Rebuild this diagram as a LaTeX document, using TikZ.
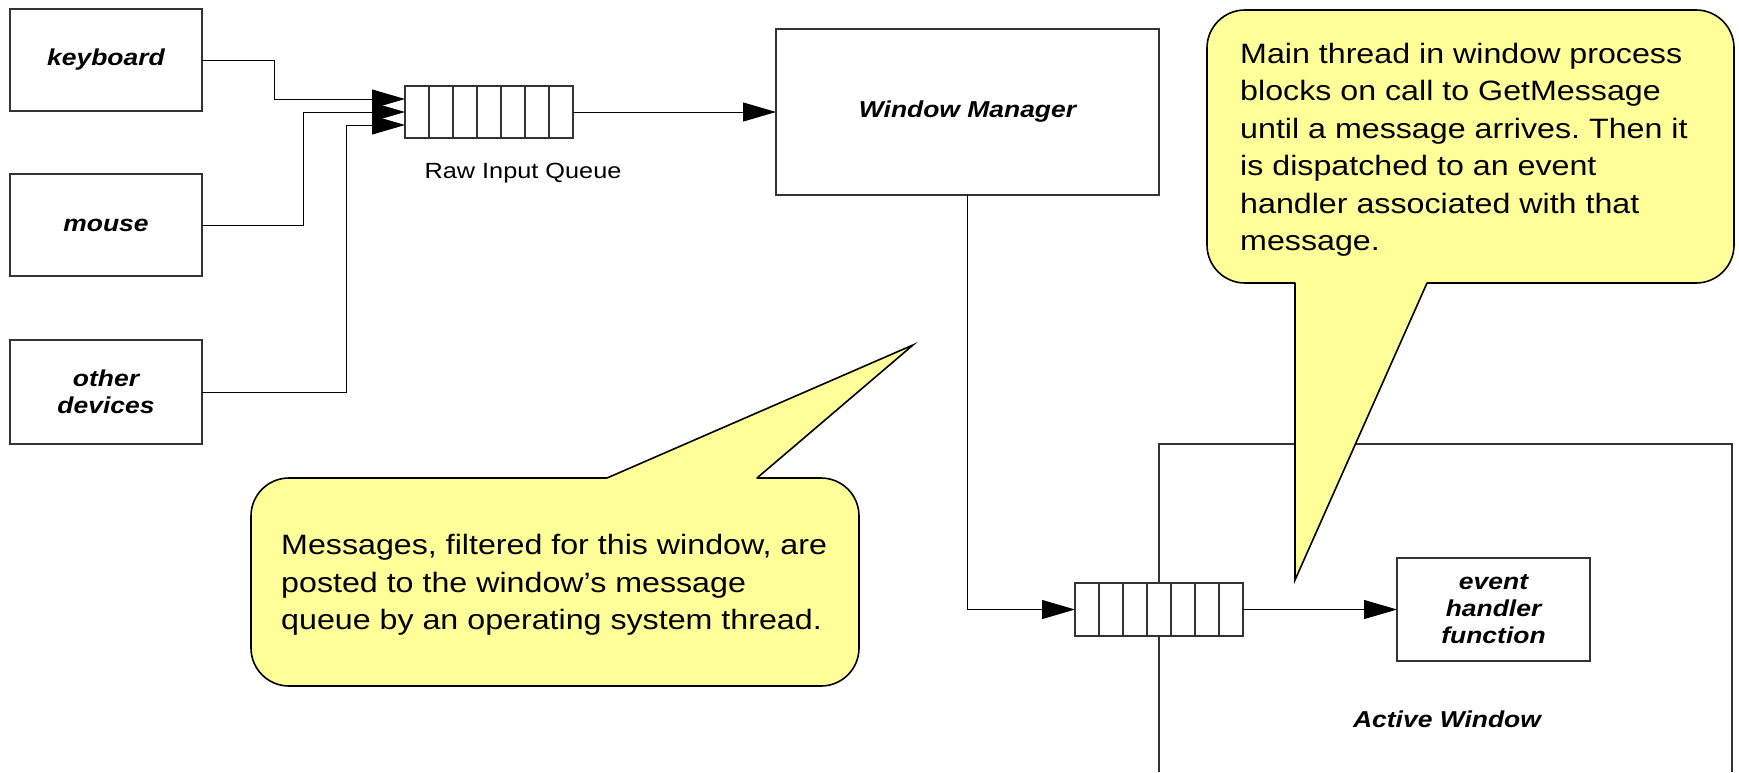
\documentclass[tikz,border=0pt]{standalone}
\usepackage{fontspec}
\setmainfont{Liberation Sans}[FakeStretch=1.15]
\usetikzlibrary{arrows.meta,calc}
\definecolor{cyel}{HTML}{FFFF99}
\frenchspacing
\begin{document}
\begin{tikzpicture}[x=1pt,y=-1pt,
 box/.style={draw=black!80, line width=1.3pt, fill=white, inner sep=0pt, outer sep=0pt, align=center, font=\fontsize{23}{27}\selectfont\bfseries\itshape},
 queue/.style={draw=black!80, line width=1.1pt, fill=white, inner sep=0pt, outer sep=0pt, minimum width=168pt},
 cell/.style={draw=black!80, line width=1.1pt},
 conn/.style={draw=black, line width=1pt},
 arr/.style={conn, -{Triangle[length=33pt,width=19pt]}},
 callout/.style={draw=black, line width=1.6pt, fill=cyel, rounded corners=38pt},
 tailfill/.style={fill=cyel},
 tailline/.style={draw=black, line width=1.6pt, line join=miter, line cap=round},
 ctext/.style={inner sep=0pt, align=left, anchor=west, font=\fontsize{28}{37.5}\selectfont},
 lbl/.style={inner sep=0pt, font=\fontsize{22}{26}\selectfont},
]
\useasboundingbox (0,0) rectangle (1739,772);

% Active window region
\draw[draw=black!80, line width=1.3pt] (1159,772) -- (1159,444) -- (1732,444) -- (1732,772);
\node[inner sep=0pt, font=\fontsize{23}{27}\selectfont\bfseries\itshape] (awl) at (1447,719) {Active Window};

% devices
\node[box, minimum width=192pt, minimum height=102pt] (kbd) at (106,60) {keyboard};
\node[box, minimum width=192pt, minimum height=102pt] (mouse) at (106,225) {mouse};
\node[box, minimum width=192pt, minimum height=104pt] (oth) at (106,392) {other\\devices};

% raw input queue
\node[queue, minimum height=52pt] (rawq) at (489,112) {};
\foreach \i in {1,...,6}
  \draw[cell] ($(rawq.north west)+(\i*24,0)$) -- ($(rawq.south west)+(\i*24,0)$);
\node[lbl] (rawl) at (523,173) {Raw Input Queue};

% window manager
\node[box, minimum width=383pt, minimum height=166pt] (wm) at (967.5,112) {Window Manager};

% window message queue
\node[queue, minimum height=53pt] (q2) at (1159,609.5) {};
\foreach \i in {1,...,6}
  \draw[cell] ($(q2.north west)+(\i*24,0)$) -- ($(q2.south west)+(\i*24,0)$);

% event handler
\node[box, minimum width=193pt, minimum height=103pt] (ev) at (1493.5,609.5) {event\\handler\\function};

% connectors
\draw[arr] (kbd.east) -| (274,99) -- ($(rawq.west)+(0,-13)$);
\draw[arr] (mouse.east) -| (303,112) -- (rawq.west);
\draw[arr] (oth.east) -| (346,125) -- ($(rawq.west)+(0,13)$);
\draw[arr] (rawq.east) -- (wm.west);
\draw[arr] (wm.south) |- (q2.west);
\draw[arr] (q2.east) -- (ev.west);

% callout 1
\path[callout] (251,478) rectangle (859,686);
\coordinate (c1l) at (607,478);
\coordinate (c1t) at (913,345);
\coordinate (c1r) at (757,478);
\fill[tailfill] (c1l) -- (c1t) -- (c1r) -- ($(c1r)+(0,4)$) -- ($(c1l)+(0,4)$) -- cycle;
\draw[tailline] (c1l) -- (c1t) -- (c1r);
\node[ctext] (t1) at (281,585) {Messages, filtered for this window, are\\posted to the window’s message\\queue by an operating system thread.};

% callout 2
\path[callout] (1207,10) rectangle (1734,283);
\coordinate (c2l) at (1295,283);
\coordinate (c2t) at (1295,580);
\coordinate (c2r) at (1427,283);
\fill[tailfill] (c2l) -- (c2t) -- (c2r) -- ($(c2r)+(0,-4)$) -- ($(c2l)+(0,-4)$) -- cycle;
\draw[tailline] (c2l) -- (c2t) -- (c2r);
\node[ctext] (t2) at (1240,150) {Main thread in window process\\blocks on call to GetMessage\\until a message arrives. Then it\\is dispatched to an event\\handler associated with that\\message.};
\end{tikzpicture}
\end{document}
